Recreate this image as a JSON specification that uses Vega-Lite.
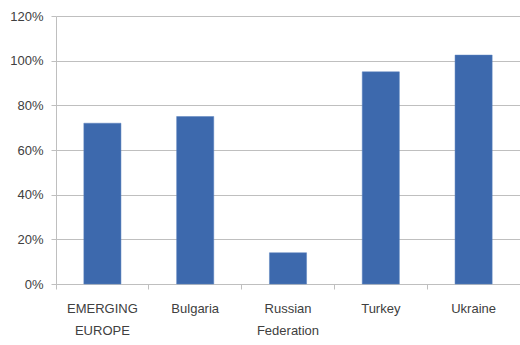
{
  "$schema": "https://vega.github.io/schema/vega-lite/v6.json",
  "autosize": {"type": "none"},
  "padding": {"left": 56, "top": 16, "right": 0, "bottom": 61},
  "width": 464,
  "height": 268,
  "background": "white",
  "data": {"values": [
    {"region": "EMERGING EUROPE", "value": 0.72},
    {"region": "Bulgaria", "value": 0.75},
    {"region": "Russian Federation", "value": 0.14},
    {"region": "Turkey", "value": 0.95},
    {"region": "Ukraine", "value": 1.025}
  ]},
  "mark": {"type": "bar", "color": "#3D69AD", "stroke": "#5B82BF", "strokeWidth": 0.5},
  "encoding": {
    "x": {
      "field": "region", "type": "nominal", "sort": null,
      "scale": {"paddingInner": 0.6, "paddingOuter": 0.3},
      "axis": {
        "title": null, "labelAngle": 0,
        "labelExpr": "split(datum.label, ' ')",
        "labelFont": "Liberation Sans", "labelFontSize": 13, "labelColor": "#404040",
        "labelLineHeight": 22, "labelPadding": 13, "labelBaseline": "top",
        "domainColor": "#BFBFBF", "tickColor": "#BFBFBF", "tickSize": 5,
        "bandPosition": -0.75, "grid": false
      }
    },
    "y": {
      "field": "value", "type": "quantitative",
      "scale": {"domain": [0, 1.2], "nice": false},
      "axis": {
        "title": null, "format": ".0%", "values": [0, 0.2, 0.4, 0.6, 0.8, 1.0, 1.2],
        "labelFont": "Liberation Sans", "labelFontSize": 13, "labelColor": "#404040",
        "labelPadding": 8, "tickSize": 5, "tickColor": "#BFBFBF",
        "domainColor": "#BFBFBF", "gridColor": "#BFBFBF", "gridWidth": 1
      }
    }
  },
  "config": {"view": {"stroke": null}}
}
